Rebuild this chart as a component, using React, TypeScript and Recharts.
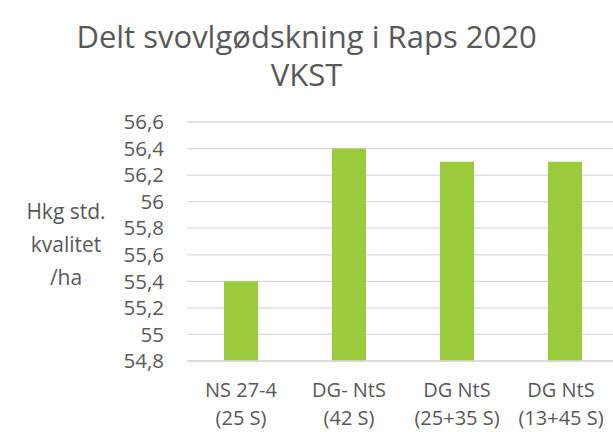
import React from "react";
import { BarChart, Bar, XAxis, YAxis, CartesianGrid } from "recharts";

const categories = ["NS 27-4|(25 S)", "DG- NtS|(42 S)", "DG NtS|(25+35 S)", "DG NtS|(13+45 S)"];
const values = [55.4, 56.4, 56.3, 56.3];
const yTicks = [54.8, 55, 55.2, 55.4, 55.6, 55.8, 56, 56.2, 56.4, 56.6];
const titleLines = ["Delt svovlgødskning i Raps 2020", "VKST"];
const yLabelLines = ["Hkg std.", "kvalitet", "/ha"];

const data = categories.map((c, i) => ({ name: c, value: values[i] }));

const FONT = "'Open Sans', 'Noto Sans', sans-serif";
const TXT = "#595959";

const XTick = (props: any) => {
  const { x, payload, index } = props;
  const lines = String(payload.value).split("|");
  const cx = index === categories.length - 1 ? x - 4 : x;
  return (
    <g>
      {lines.map((l, i) => (
        <text key={i} x={cx} y={397 + i * 28} textAnchor="middle" fill={TXT} fontSize={20} fontFamily={FONT}>
          {l}
        </text>
      ))}
    </g>
  );
};

export default function App() {
  return (
    <div style={{ position: "fixed", left: 0, top: 0, width: 613, height: 432, overflow: "hidden", background: "#fff" }}>
      {titleLines.map((l, i) => (
        <div key={i} style={{ position: "absolute", left: 0, top: 18 + i * 38, width: 613, textAlign: "center", fontFamily: FONT, fontSize: 31, lineHeight: "36px", color: TXT, whiteSpace: "nowrap" }}>
          {l}
        </div>
      ))}
      {yLabelLines.map((l, i) => (
        <div key={i} style={{ position: "absolute", left: 16, top: 195 + i * 33, width: 100, textAlign: "center", fontFamily: FONT, fontSize: 21, lineHeight: "33px", color: TXT }}>
          {l}
        </div>
      ))}
      <div style={{ position: "absolute", left: 0, top: 0 }}>
        <BarChart width={613} height={432} data={data} margin={{ top: 122, right: -6, bottom: 0, left: 0 }}>
          <CartesianGrid vertical={false} stroke="#d9d9d9" strokeWidth={1.3} />
          <XAxis dataKey="name" height={71} tick={<XTick />} tickLine={false} axisLine={{ stroke: "#d9d9d9", strokeWidth: 1.3 }} interval={0} />
          <YAxis
            width={187}
            domain={[54.8, 56.6]}
            ticks={yTicks}
            interval={0}
            tickLine={false}
            axisLine={false}
            tickMargin={17}
            tickFormatter={(v: number) => String(Number(v.toFixed(1))).replace(".", ",")}
            tick={{ fill: TXT, fontSize: 20.5, fontFamily: FONT }}
          />
          <Bar dataKey="value" fill="#9ACB3C" barSize={34} isAnimationActive={false} />
        </BarChart>
      </div>
    </div>
  );
}
